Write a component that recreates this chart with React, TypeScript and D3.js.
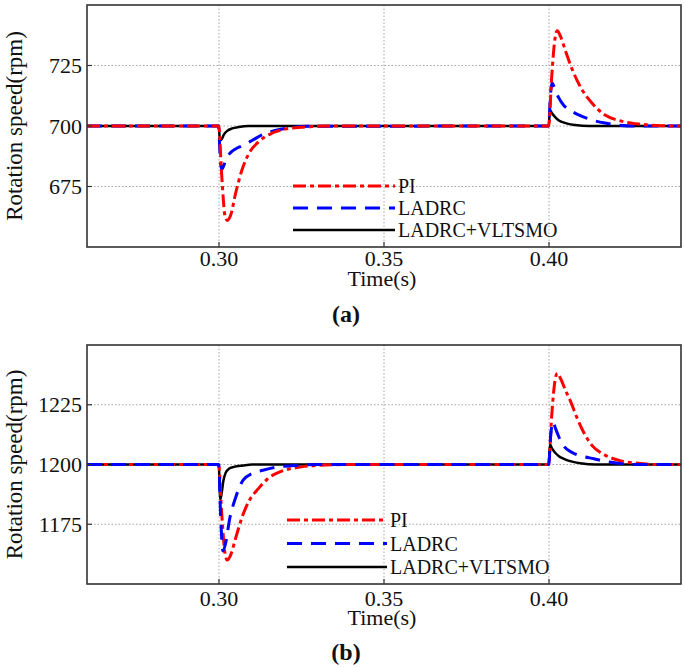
import React from "react";
import * as d3 from "d3";

// ---------- data ----------
const xTicks = [0.3, 0.35, 0.4];
const yTicksA = [675, 700, 725];
const yTicksB = [1175, 1200, 1225];
const seriesNames = ["PI", "LADRC", "LADRC+VLTSMO"];

// Panel (a)
const piA_t = [0.26, 0.2999, 0.3008, 0.3018, 0.3025, 0.3035, 0.305, 0.307, 0.309, 0.312, 0.316, 0.32, 0.326, 0.332, 0.3999, 0.4008, 0.4018, 0.4025, 0.4035, 0.405, 0.407, 0.41, 0.413, 0.417, 0.422, 0.428, 0.434, 0.44];
const piA_v = [700, 700, 680, 663, 661, 663, 672, 682, 688.5, 693.5, 697, 698.7, 699.6, 700, 700, 720, 736, 739.4, 737, 731, 723.5, 715, 709.5, 704.5, 702, 700.7, 700.1, 700];
const ladA_t = [0.26, 0.2999, 0.3003, 0.3008, 0.3014, 0.3022, 0.3035, 0.305, 0.307, 0.31, 0.313, 0.317, 0.321, 0.327, 0.3999, 0.4004, 0.4009, 0.4016, 0.4028, 0.4045, 0.407, 0.41, 0.413, 0.417, 0.421, 0.426, 0.44];
const ladA_v = [700, 700, 688, 682, 683.5, 686.5, 689, 690.5, 691.8, 694, 696.3, 698.2, 699.2, 699.9, 700, 712, 717.9, 716, 712, 708.5, 706, 704, 702.5, 701.2, 700.4, 700, 700];
const vltA_t = [0.26, 0.2999, 0.3003, 0.3008, 0.3015, 0.3025, 0.304, 0.306, 0.309, 0.3999, 0.4003, 0.4008, 0.4018, 0.403, 0.405, 0.408, 0.412, 0.44];
const vltA_v = [700, 700, 694, 694.5, 696.5, 698, 699, 699.6, 700, 700, 706.5, 705.5, 703.8, 702.3, 701.2, 700.4, 700, 700];

// Panel (b)
const piB_t = [0.26, 0.2999, 0.3008, 0.3018, 0.3025, 0.3035, 0.305, 0.307, 0.309, 0.312, 0.315, 0.319, 0.325, 0.332, 0.34, 0.3999, 0.4008, 0.4018, 0.4025, 0.4035, 0.405, 0.4065, 0.4085, 0.4105, 0.413, 0.4165, 0.4215, 0.427, 0.433, 0.44];
const piB_v = [1200, 1200, 1180, 1163, 1160, 1162, 1169, 1178, 1184.5, 1190, 1194.3, 1197.2, 1199, 1199.8, 1200, 1200, 1220, 1235, 1238.2, 1236, 1231, 1226.5, 1219.5, 1213.5, 1208, 1204.3, 1201.6, 1200.5, 1200, 1200];
const ladB_t = [0.26, 0.2999, 0.3005, 0.3012, 0.302, 0.3032, 0.305, 0.3073, 0.31, 0.3133, 0.317, 0.322, 0.33, 0.3999, 0.4005, 0.4012, 0.402, 0.403, 0.4045, 0.407, 0.41, 0.4136, 0.417, 0.421, 0.426, 0.44];
const ladB_v = [1200, 1200, 1178, 1163.8, 1167, 1177, 1186, 1193.5, 1196.2, 1197.6, 1198.8, 1199.5, 1200, 1200, 1212, 1217.9, 1215, 1211.5, 1207.7, 1205, 1203.5, 1202.4, 1201.3, 1200.5, 1200, 1200];
const vltB_t = [0.26, 0.2999, 0.3004, 0.3008, 0.3013, 0.302, 0.303, 0.3045, 0.3073, 0.31, 0.3999, 0.4003, 0.4008, 0.4018, 0.403, 0.4045, 0.407, 0.41, 0.414, 0.44];
const vltB_v = [1200, 1200, 1185.4, 1188, 1193, 1196.5, 1198.2, 1199, 1199.6, 1200, 1200, 1208.5, 1207, 1205, 1203.5, 1202.4, 1201.2, 1200.4, 1200, 1200];

const FONT = "Liberation Serif, DejaVu Serif, serif";
const txt = { fontFamily: FONT };

type S = { t: number[]; v: number[]; color: string; dash: string | null; width: number };

function Panel({ top, bottom, yDomain, yTicks, series, legendY, legendGap, legX1, legX2, label, labelY, xLabelY, timeY }: any) {
  const left = 87, right = 681;
  const x = d3.scaleLinear().domain([0.26, 0.44]).range([left, right]);
  const y = d3.scaleLinear().domain(yDomain).range([bottom, top]);
  const line = d3.line<[number, number]>().x(d => x(d[0])).y(d => y(d[1])).curve(d3.curveMonotoneX);
  const clipId = "clip" + label;
  return (
    <g>
      <defs>
        <clipPath id={clipId}><rect x={left} y={top} width={right - left} height={bottom - top} /></clipPath>
      </defs>
      {xTicks.map(t => (
        <line key={"gx" + t} x1={x(t)} x2={x(t)} y1={top} y2={bottom} stroke="#9a9a9a" strokeWidth={0.9} strokeDasharray="1.5,2" />
      ))}
      {yTicks.map((t: number) => (
        <line key={"gy" + t} x1={left} x2={right} y1={y(t)} y2={y(t)} stroke="#9a9a9a" strokeWidth={0.9} strokeDasharray="1.5,2" />
      ))}
      <g clipPath={`url(#${clipId})`}>
        {series.map((s: S, i: number) => (
          <path key={i} d={line(s.t.map((t, j) => [t, s.v[j]]) as [number, number][]) || ""} fill="none" stroke={s.color}
            strokeWidth={s.width} strokeDasharray={s.dash || undefined} strokeLinejoin="round" />
        ))}
      </g>
      {[0, 1, 2].map(i => {
        const s: S = series.find((q: any) => q.name === seriesNames[i]);
        const ly = legendY + i * legendGap;
        return (
          <g key={"lg" + i}>
            <line x1={legX1} x2={legX2} y1={ly} y2={ly} stroke={s.color} strokeWidth={s.width} strokeDasharray={s.dash || undefined} />
            <text x={legX2 + 3} y={ly} dy="0.35em" style={txt} fontSize={20} fill="#111">{seriesNames[i]}</text>
          </g>
        );
      })}
      <rect x={left} y={top} width={right - left} height={bottom - top} fill="none" stroke="#333" strokeWidth={1.6} />
      {xTicks.map(t => (
        <g key={"xt" + t}>
          <line x1={x(t)} x2={x(t)} y1={bottom} y2={bottom - 5} stroke="#333" strokeWidth={1.2} />
          <text x={x(t)} y={xLabelY} textAnchor="middle" style={txt} fontSize={22} fill="#111">{t.toFixed(2)}</text>
        </g>
      ))}
      {yTicks.map((t: number) => (
        <g key={"yt" + t}>
          <line x1={left} x2={left + 5} y1={y(t)} y2={y(t)} stroke="#333" strokeWidth={1.2} />
          <text x={left - 5} y={y(t)} dy="0.35em" textAnchor="end" style={txt} fontSize={22} fill="#111">{t}</text>
        </g>
      ))}
      <text x={382} y={timeY} textAnchor="middle" style={txt} fontSize={22} fill="#111">Time(s)</text>
      <text transform={`translate(22,${(top + bottom) / 2}) rotate(-90)`} textAnchor="middle" style={txt} fontSize={23} fill="#111">Rotation speed(rpm)</text>
      <text x={346} y={labelY} textAnchor="middle" style={txt} fontSize={24} fontWeight="bold" fill="#111">({label})</text>
    </g>
  );
}

export default function App() {
  const seriesA = [
    { name: "LADRC+VLTSMO", t: vltA_t, v: vltA_v, color: "#000000", dash: null, width: 2.5 },
    { name: "LADRC", t: ladA_t, v: ladA_v, color: "#0000ff", dash: "15,9", width: 3 },
    { name: "PI", t: piA_t, v: piA_v, color: "#ff0000", dash: "13,4,4,4", width: 3 },
  ];
  const seriesB = [
    { name: "LADRC+VLTSMO", t: vltB_t, v: vltB_v, color: "#000000", dash: null, width: 2.5 },
    { name: "PI", t: piB_t, v: piB_v, color: "#ff0000", dash: "13,4,4,4", width: 3 },
    { name: "LADRC", t: ladB_t, v: ladB_v, color: "#0000ff", dash: "15,9", width: 3 },
  ];
  return (
    <svg width={685} height={668} style={{ position: "absolute", left: 0, top: 0, background: "#fff" }}>
      <rect width={685} height={668} fill="#fff" />
      <Panel top={5} bottom={247} yDomain={[650, 750]} yTicks={yTicksA} series={seriesA}
        legendY={186} legendGap={22} legX1={293} legX2={395}
        label="a" labelY={322} xLabelY={266} timeY={286} />
      <Panel top={345} bottom={584} yDomain={[1150, 1250]} yTicks={yTicksB} series={seriesB}
        legendY={520} legendGap={23.5} legX1={287} legX2={387}
        label="b" labelY={660} xLabelY={606} timeY={625} />
    </svg>
  );
}
